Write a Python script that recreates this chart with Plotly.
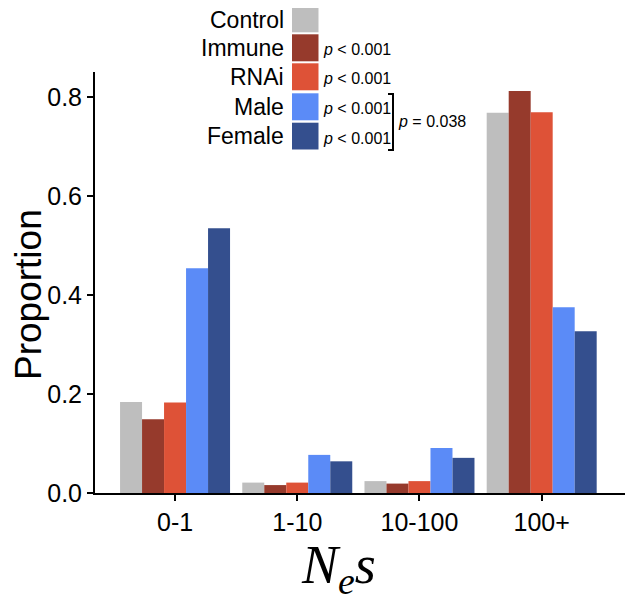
import plotly.graph_objects as go

categories = ["0-1", "1-10", "10-100", "100+"]
series_names = ["Control", "Immune", "RNAi", "Male", "Female"]
control = [0.184, 0.021, 0.024, 0.768]
immune = [0.149, 0.016, 0.019, 0.812]
rnai = [0.183, 0.021, 0.024, 0.769]
male = [0.454, 0.077, 0.091, 0.375]
female = [0.535, 0.064, 0.071, 0.327]
p_labels = ["", "p < 0.001", "p < 0.001", "p < 0.001", "p < 0.001"]
bracket_label = "p = 0.038"

colors = ["#BEBEBE", "#963A2C", "#DE5237", "#5B8BF7", "#344F8E"]
values = [control, immune, rnai, male, female]

# page offset from default body margin
OFF = 8
PAGE_W, PAGE_H = 633, 600
# plot area in page pixels
X0, X1, Y0, Y1 = 95, 627, 72, 493
W, H = PAGE_W - OFF, PAGE_H - OFF
L, R, T, B = X0 - OFF, W - (X1 - OFF), Y0 - OFF, H - (Y1 - OFF)
pw, ph = X1 - X0, Y1 - Y0


def px(x):
    return (x - X0) / pw


def py(y):
    return (Y1 - y) / ph


fig = go.Figure()
for name, vals, col in zip(series_names, values, colors):
    fig.add_trace(go.Bar(x=categories, y=vals, name=name, marker=dict(color=col, line=dict(width=0)),
                         showlegend=False))

FONT = "Liberation Sans, Arial, sans-serif"
shapes = []
annotations = []

# custom legend
box_tops = [8, 34.3, 63.3, 93.3, 122.7]
box_bottoms = [32.3, 61.3, 90.3, 120.3, 149.5]
for i, (name, col) in enumerate(zip(series_names, colors)):
    y0 = box_tops[i]
    y1 = box_bottoms[i]
    yc = (y0 + y1) / 2 if i > 0 else 20.5
    shapes.append(dict(type="rect", xref="paper", yref="paper", x0=px(292), x1=px(318.5),
                       y0=py(y1), y1=py(y0), fillcolor=col, line=dict(width=0)))
    annotations.append(dict(x=px(286), y=py(yc), xref="paper", yref="paper", text=name,
                            showarrow=False, xanchor="right", yanchor="middle",
                            font=dict(family=FONT, size=23, color="black")))
    if p_labels[i]:
        txt = "<i>p</i> < 0.001"
        annotations.append(dict(x=px(321), y=py(yc + 2), xref="paper", yref="paper", text=txt,
                                showarrow=False, xanchor="left", yanchor="middle",
                                font=dict(family=FONT, size=16, color="black")))

# bracket
shapes.append(dict(type="path", xref="paper", yref="paper",
                   path="M {a},{b} L {c},{b} L {c},{d} L {a},{d}".format(a=px(388), c=px(393), b=py(94), d=py(150)),
                   line=dict(color="black", width=2)))
annotations.append(dict(x=px(396), y=py(122), xref="paper", yref="paper", text="<i>p</i> = 0.038",
                        showarrow=False, xanchor="left", yanchor="middle",
                        font=dict(family=FONT, size=16, color="black")))

# axis titles
annotations.append(dict(x=px(28), y=py(295), xref="paper", yref="paper", text="Proportion",
                        textangle=-90, showarrow=False, xanchor="center", yanchor="middle",
                        font=dict(family=FONT, size=37, color="black")))
annotations.append(dict(x=px(338), y=py(568), xref="paper", yref="paper",
                        text="<i>N</i><sub><i>e</i></sub><i>s</i>",
                        showarrow=False, xanchor="center", yanchor="middle",
                        font=dict(family="Liberation Serif, Times New Roman, serif", size=54, color="black")))

fig.update_layout(
    width=W, height=H,
    margin=dict(l=L, r=R, t=T, b=B, pad=0),
    barmode="group", bargap=0.1, bargroupgap=0,
    plot_bgcolor="white", paper_bgcolor="white",
    shapes=shapes, annotations=annotations,
    xaxis=dict(range=[-0.655, 3.698], showline=True, linecolor="black", linewidth=2,
               ticks="outside", ticklen=6, tickwidth=2, tickcolor="black", showgrid=False, zeroline=False,
               tickfont=dict(family=FONT, size=25, color="black")),
    yaxis=dict(range=[0, 0.8505], showline=True, linecolor="black", linewidth=2,
               ticks="outside", ticklen=6, tickwidth=2, tickcolor="black", showgrid=False, zeroline=False,
               tickvals=[0, 0.2, 0.4, 0.6, 0.8], ticktext=["0.0", "0.2", "0.4", "0.6", "0.8"],
               tickfont=dict(family=FONT, size=25, color="black")),
)

fig.write_html("out.html")
